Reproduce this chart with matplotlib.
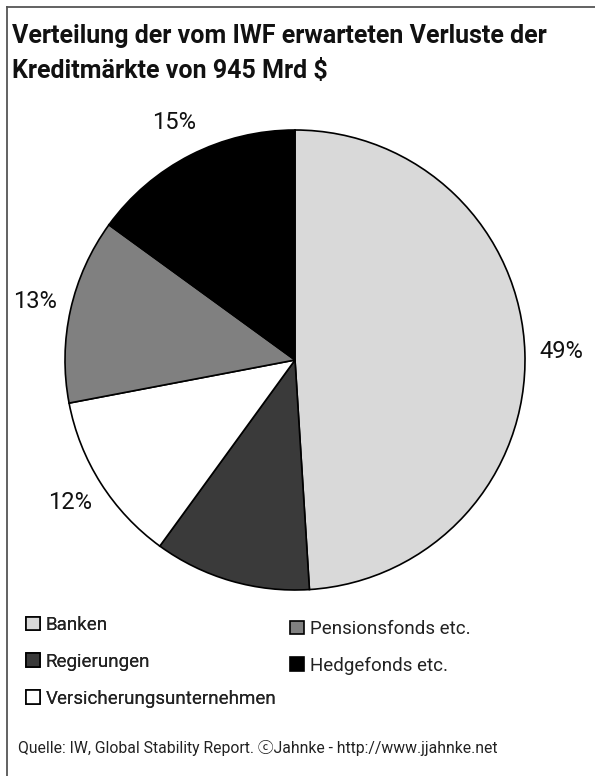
import matplotlib.pyplot as plt
from matplotlib.lines import Line2D

# === DATA ===

categories = [
    "Banken",
    "Regierungen",
    "Versicherungsunternehmen",
    "Pensionsfonds etc.",
    "Hedgefonds etc.",
]
shares = [49, 11, 12, 13, 15]
colors = ["#d9d9d9", "#3a3a3a", "#ffffff", "#808080", "#000000"]
hidden_label = "Regierungen"  # its percentage is cut off in the original

title = "Verteilung der vom IWF erwarteten Verluste der\nKreditmärkte von 945 Mrd $"
source = "Quelle: IW, Global Stability Report. ⓒJahnke - http://www.jjahnke.net"

plt.rcParams["font.family"] = ["Roboto", "Noto Sans CJK JP", "DejaVu Sans"]

W, H = 595, 776
fig = plt.figure(figsize=(W / 100, H / 100), dpi=100)

# pie axes: centre (295, 360) px, radius 230 px
cx, cy, r = 295, 360, 230
ax = fig.add_axes([(cx - r) / W, (H - cy - r) / H, 2 * r / W, 2 * r / H])

wedges, texts, autotexts = ax.pie(
    shares,
    colors=colors,
    startangle=90,
    counterclock=False,
    autopct=lambda p: f"{p:.0f}%",
    pctdistance=1.16,
    wedgeprops={"edgecolor": "black", "linewidth": 1.2},
    textprops={"fontsize": 17, "color": "#111111"},
)
for name, t in zip(categories, autotexts):
    if name == hidden_label:
        t.set_visible(False)
ax.set_aspect("equal")
ax.set_xlim(-1, 1)
ax.set_ylim(-1, 1)
ax.axis("off")

fig.text(12 / W, 1 - 24 / H, title, fontsize=18, fontweight="bold",
         va="top", ha="left", linespacing=1.6, color="#111111")

# legend in two columns, placed separately like the original
leg_kw = dict(
    loc="upper left",
    frameon=False,
    fontsize=13.5,
    handlelength=0.75,
    handleheight=0.75,
    handletextpad=0.3,
    labelspacing=1.0,
    borderaxespad=0,
    borderpad=0,
    labelcolor="#222222",
)
leg1 = fig.legend(wedges[:3], categories[:3],
                  bbox_to_anchor=(26 / W, 1 - 616 / H), **leg_kw)
fig.add_artist(leg1)
fig.legend(wedges[3:], categories[3:],
           bbox_to_anchor=(290 / W, 1 - 620 / H), **leg_kw)

fig.text(18 / W, 1 - 748 / H, source, fontsize=11.3, va="center", ha="left",
         color="#222222")

# frame lines (top and left only)
fig.add_artist(Line2D([7 / W, 1], [1 - 7 / H, 1 - 7 / H], color="#555555",
                      linewidth=1.3, transform=fig.transFigure))
fig.add_artist(Line2D([7 / W, 7 / W], [0, 1 - 7 / H], color="#555555",
                      linewidth=1.3, transform=fig.transFigure))

fig.savefig("out.png", dpi=100)
